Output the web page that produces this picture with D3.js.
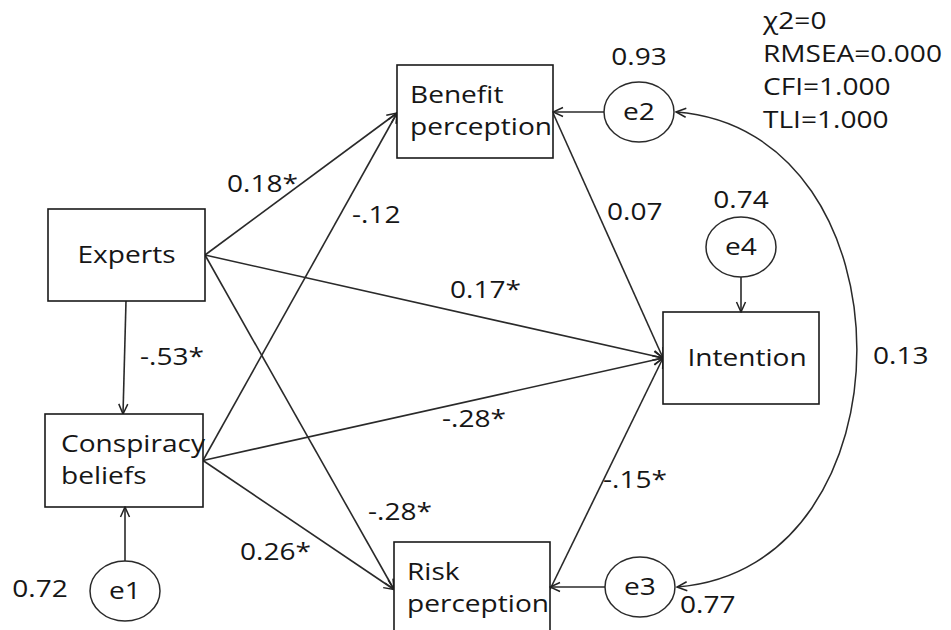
<!DOCTYPE html>
<html>
<head>
<meta charset="utf-8">
<script src="https://cdn.jsdelivr.net/npm/d3@7"></script>
<style>
  html, body { margin: 0; padding: 0; background: #fff; }
  svg { display: block; }
  text { font-family: "Open Sans", "Noto Sans", sans-serif; font-size: 24px; fill: #161616; }
</style>
</head>
<body>
<svg id="chart" width="951" height="630"></svg>
<script>
// Observed variables of the path model
const variables = ["Experts", "Conspiracy beliefs", "Benefit perception", "Risk perception", "Intention"];

// Structural paths (standardized coefficients, * = significant)
const pathFrom = ["Experts", "Experts", "Experts", "Experts", "Conspiracy beliefs", "Conspiracy beliefs", "Conspiracy beliefs", "Benefit perception", "Risk perception"];
const pathTo   = ["Benefit perception", "Conspiracy beliefs", "Intention", "Risk perception", "Benefit perception", "Intention", "Risk perception", "Intention", "Intention"];
const pathCoef = ["0.18*", "-.53*", "0.17*", "-.28*", "-.12", "-.28*", "0.26*", "0.07", "-.15*"];

// Error terms and their variances
const errorNames = ["e1", "e2", "e3", "e4"];
const errorTargets = ["Conspiracy beliefs", "Benefit perception", "Risk perception", "Intention"];
const errorVariance = ["0.72", "0.93", "0.77", "0.74"];

// Error covariance between e2 and e3
const covariance = ["e2", "e3", "0.13"];

// Model fit statistics
const fitStats = ["χ2=0", "RMSEA=0.000", "CFI=1.000", "TLI=1.000"];

// ---- layout (drawing geometry) ----
const boxLayout = {
  "Experts":            { x: 48,  y: 209, w: 157, h: 92, lines: ["Experts"], dx: 0 },
  "Conspiracy beliefs": { x: 45,  y: 414, w: 158, h: 93, lines: ["Conspiracy", "beliefs"], dx: 16 },
  "Benefit perception": { x: 397, y: 65,  w: 156, h: 93, lines: ["Benefit", "perception"], dx: 13 },
  "Risk perception":    { x: 394, y: 542, w: 156, h: 95, lines: ["Risk", "perception"], dx: 13 },
  "Intention":          { x: 663, y: 312, w: 156, h: 92, lines: ["Intention"], dx: 6 }
};
const errLayout = {
  e1: { cx: 125, cy: 591, side: "top" },
  e2: { cx: 639, cy: 112, side: "left" },
  e3: { cx: 640, cy: 587, side: "left" },
  e4: { cx: 741, cy: 247, side: "bottom" }
};
const errRx = 35, errRy = 30;
const errLabelPos = { e1: [40, 597, "middle"], e2: [639, 65, "middle"], e3: [680, 613, "start"], e4: [741, 208, "middle"] };
// path endpoints: which side of each box the arrow leaves / enters
const pathSides = [
  ["right", "left"], ["bottom", "top"], ["right", "left"], ["right", "left"],
  ["right", "left"], ["right", "left"], ["right", "left"], ["right", "left"], ["right", "left"]
];
const coefPos = [[227, 192], [140, 365], [450, 298], [368, 520], [352, 223], [442, 427], [240, 560], [607, 220], [603, 488]];
const SX = 1.17; // horizontal stretch of the lettering

const svg = d3.select("#chart");
const defs = svg.append("defs");
defs.append("marker")
  .attr("id", "arrow")
  .attr("viewBox", "0 0 12 12")
  .attr("refX", 11).attr("refY", 6)
  .attr("markerWidth", 12).attr("markerHeight", 12)
  .attr("markerUnits", "userSpaceOnUse")
  .attr("orient", "auto-start-reverse")
  .append("path")
  .attr("d", "M1,1.5 L11,6 L1,10.5")
  .attr("fill", "none")
  .attr("stroke", "#222")
  .attr("stroke-width", 1.5);

function label(g, x, y, str, anchor) {
  return g.append("text")
    .attr("transform", `translate(${x},${y}) scale(${SX},1)`)
    .attr("text-anchor", anchor || "start")
    .text(str);
}

function anchor(name, side) {
  const b = boxLayout[name];
  const midY = b.y + b.h / 2;
  if (side === "left") return [b.x, name === "Benefit perception" ? 113 : midY];
  if (side === "right") return [b.x + b.w, name === "Benefit perception" ? 113 : midY];
  if (side === "top") return [b.x + 78, b.y];
  return [b.x + 78, b.y + b.h];
}

const line = d3.line();
const gPaths = svg.append("g");
pathFrom.forEach((from, i) => {
  const to = pathTo[i];
  const p0 = anchor(from, pathSides[i][0]);
  const p1 = anchor(to, pathSides[i][1]);
  gPaths.append("path")
    .attr("d", line([p0, p1]))
    .attr("fill", "none")
    .attr("stroke", "#2a2a2a")
    .attr("stroke-width", 1.6)
    .attr("marker-end", "url(#arrow)");
});

// covariance arc between e2 and e3
const c0 = errLayout[covariance[0]], c1 = errLayout[covariance[1]];
const arc = d3.path();
arc.moveTo(c0.cx + errRx + 2, c0.cy);
arc.bezierCurveTo(917, c0.cy + 18, 917, c1.cy - 18, c1.cx + errRx + 2, c1.cy);
svg.append("path")
  .attr("d", arc.toString())
  .attr("fill", "none")
  .attr("stroke", "#2a2a2a")
  .attr("stroke-width", 1.5)
  .attr("marker-start", "url(#arrow)")
  .attr("marker-end", "url(#arrow)");
label(svg, 873, 364, covariance[2]);

// boxes
const gBoxes = svg.append("g");
variables.forEach(v => {
  const b = boxLayout[v];
  gBoxes.append("rect")
    .attr("x", b.x).attr("y", b.y).attr("width", b.w).attr("height", b.h)
    .attr("fill", "#fff").attr("stroke", "#1a1a1a").attr("stroke-width", 1.6);
  if (b.lines.length === 1) {
    label(gBoxes, b.x + b.w / 2 + b.dx, b.y + b.h / 2 + 8, b.lines[0], "middle");
  } else {
    b.lines.forEach((t, k) => label(gBoxes, b.x + b.dx, b.y + 38 + k * 32, t, "start"));
  }
});

// error terms
const gErr = svg.append("g");
errorNames.forEach((e, i) => {
  const L = errLayout[e];
  let p0, p1;
  const tgt = boxLayout[errorTargets[i]];
  if (L.side === "top") { p0 = [L.cx, L.cy - errRy]; p1 = [L.cx, tgt.y + tgt.h]; }
  else if (L.side === "left") { p0 = [L.cx - errRx, L.cy]; p1 = [tgt.x + tgt.w, L.cy]; }
  else { p0 = [L.cx, L.cy + errRy]; p1 = [L.cx, tgt.y]; }
  gErr.append("path")
    .attr("d", line([p0, p1]))
    .attr("fill", "none").attr("stroke", "#2a2a2a").attr("stroke-width", 1.6)
    .attr("marker-end", "url(#arrow)");
  gErr.append("ellipse")
    .attr("cx", L.cx).attr("cy", L.cy).attr("rx", errRx).attr("ry", errRy)
    .attr("fill", "#fff").attr("stroke", "#2a2a2a").attr("stroke-width", 1.5);
  label(gErr, L.cx, L.cy + 8, e, "middle");
  const lp = errLabelPos[e];
  label(gErr, lp[0], lp[1], errorVariance[i], lp[2]);
});

// coefficients
const gCoef = svg.append("g");
pathCoef.forEach((c, i) => label(gCoef, coefPos[i][0], coefPos[i][1], c));

// fit statistics
const gFit = svg.append("g");
fitStats.forEach((s, i) => label(gFit, 763, 29 + i * 33, s));
</script>
</body>
</html>
